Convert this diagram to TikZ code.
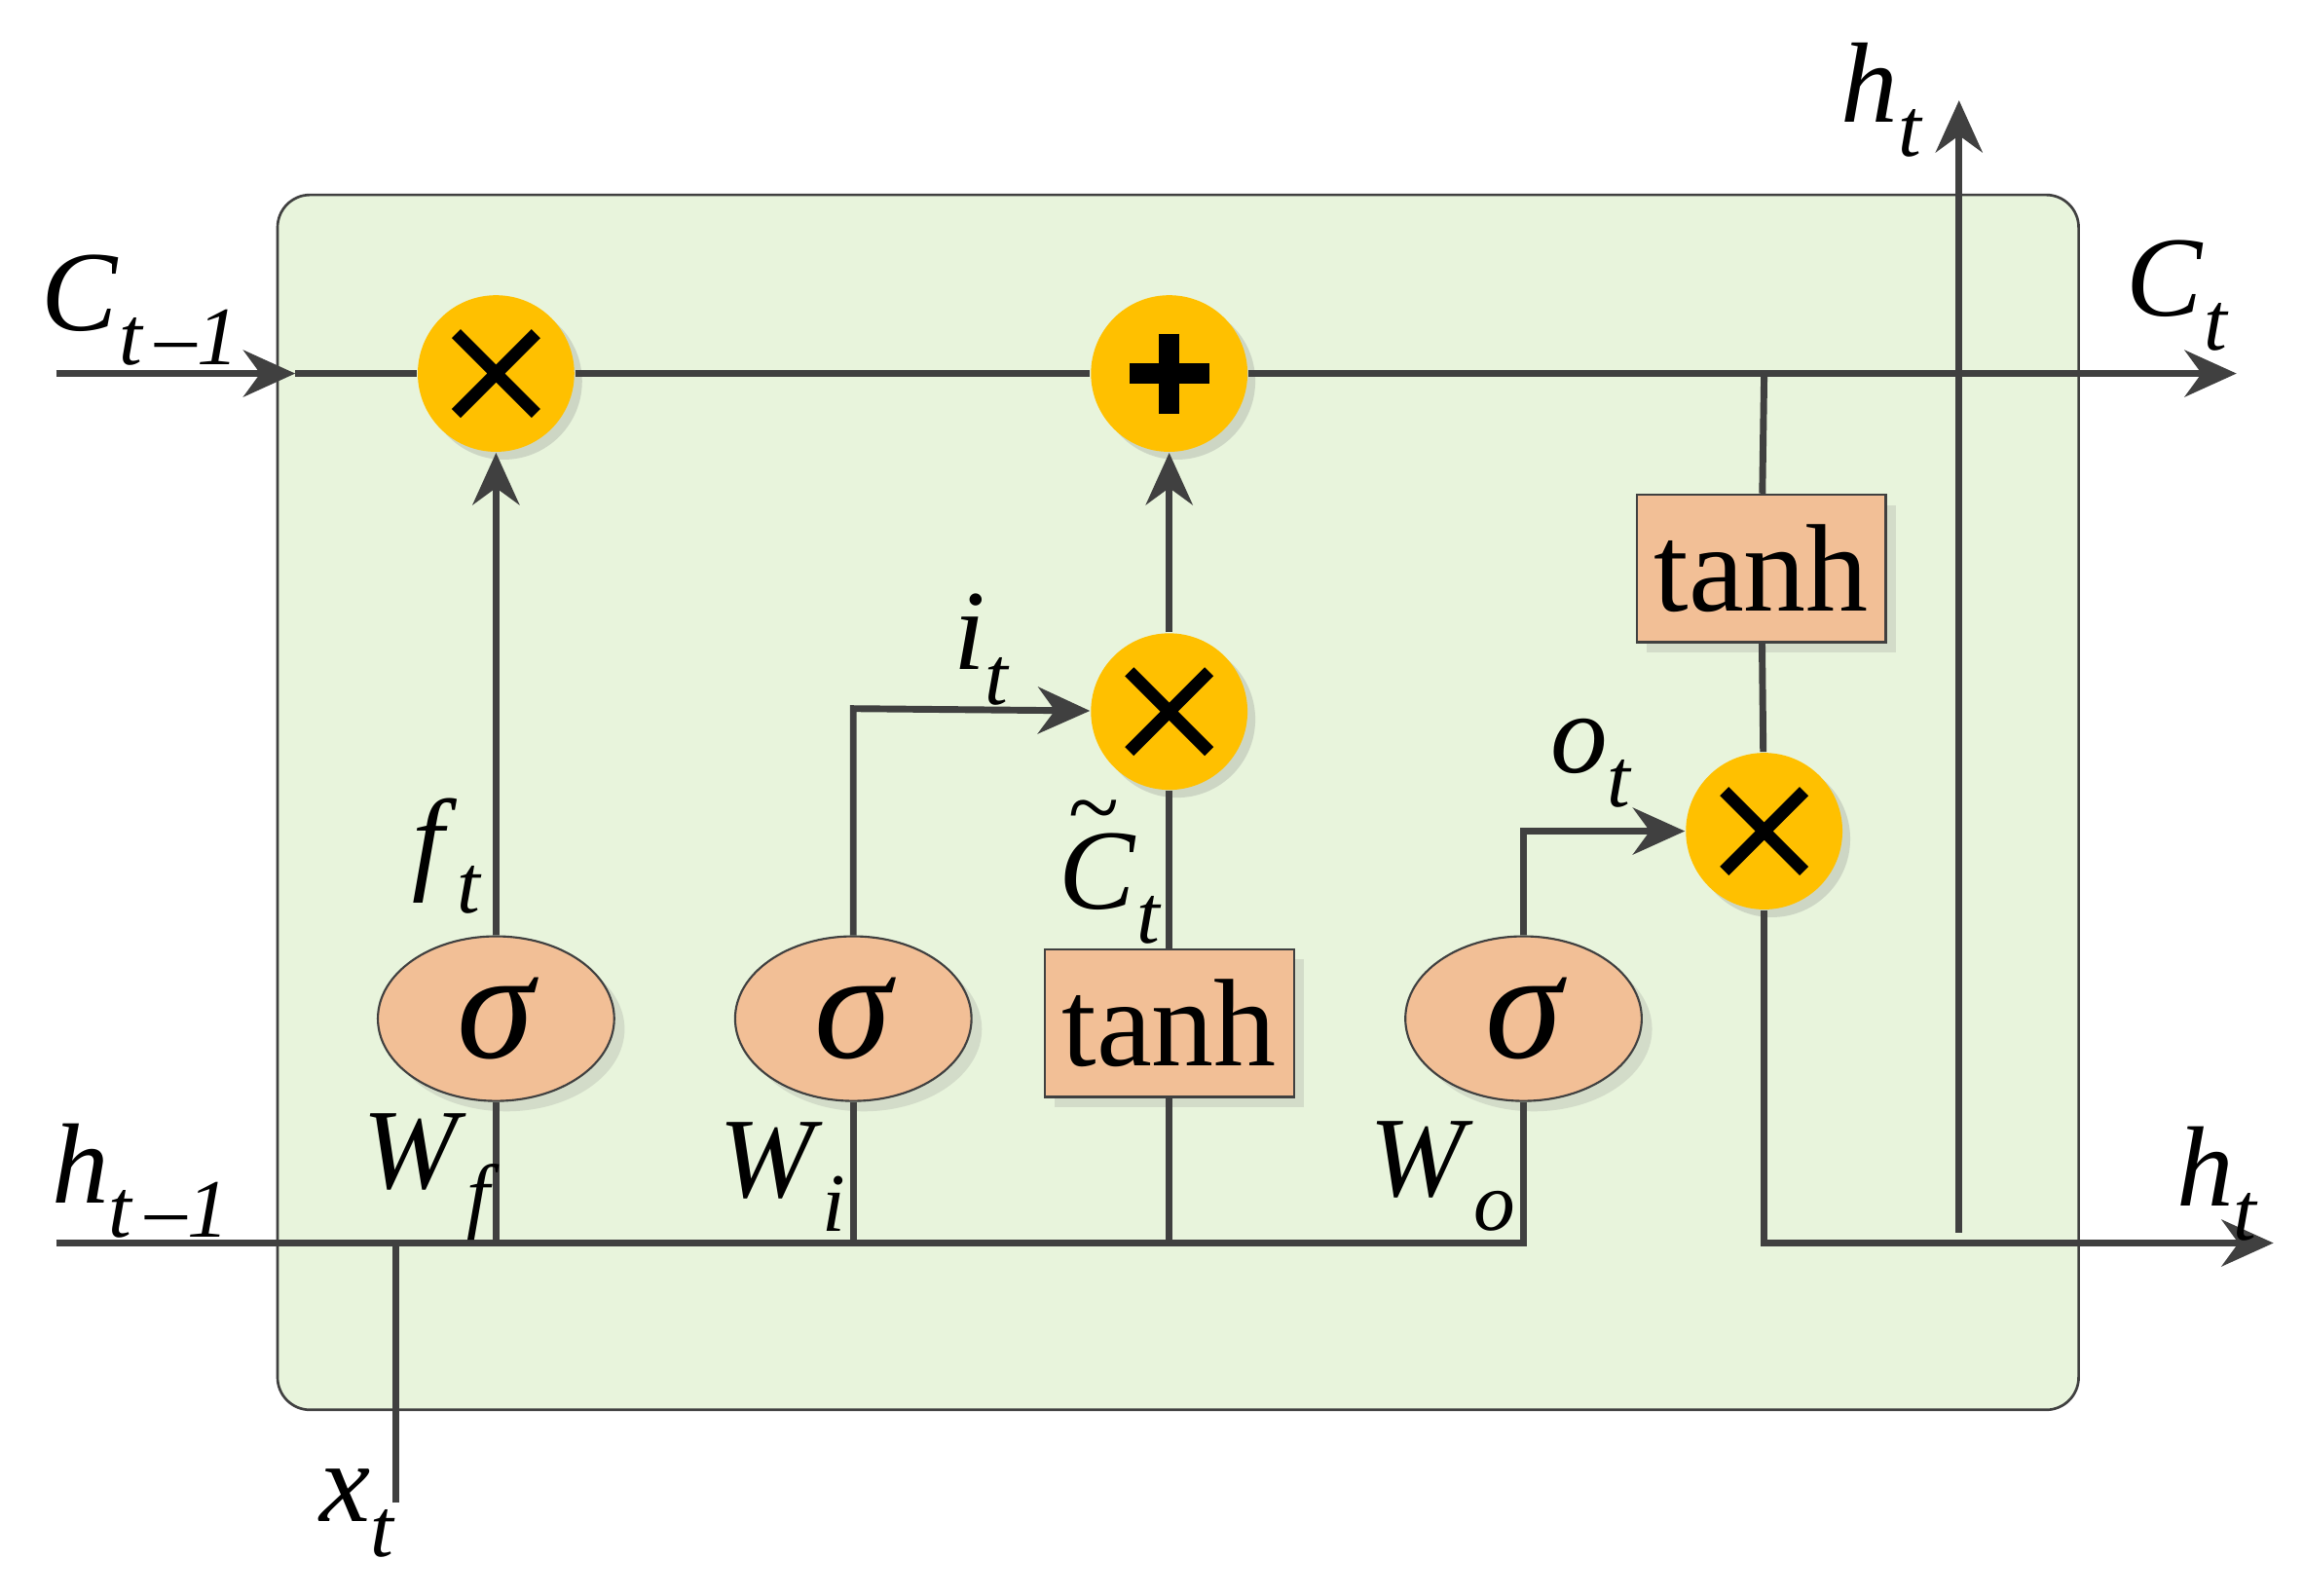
\documentclass[tikz,border=0pt]{standalone}
\usepackage{fontspec}
\setmainfont{Liberation Serif}
\usetikzlibrary{arrows.meta,shapes.geometric,shadows}
\definecolor{bg}{HTML}{E8F4DC}
\definecolor{gate}{HTML}{FFC000}
\definecolor{act}{HTML}{F2BF96}
\definecolor{ln}{HTML}{404040}
\newcommand\lv[2]{\textit{#1}\raisebox{-0.3em}{\fontsize{16}{16}\selectfont\textit{#2}}}
\begin{document}
\begin{tikzpicture}[x=0.01cm,y=-0.01cm,
  wire/.style={draw=ln,line width=1.3pt},
  arr/.style={wire,-{Stealth[length=10pt,width=9pt]}},
  op/.style={circle,fill=gate,minimum size=1.06cm,inner sep=0pt,drop shadow={shadow xshift=1.5pt,shadow yshift=-1.5pt,opacity=0.25}},
  sig/.style={ellipse,fill=act,draw=ln,line width=0.4pt,minimum width=1.6cm,minimum height=1.1cm,font=\fontsize{30}{30}\selectfont\itshape,drop shadow={shadow xshift=2pt,shadow yshift=-2pt,opacity=0.2}},
  th/.style={rectangle,fill=act,draw=ln,line width=0.4pt,minimum width=1.62cm,minimum height=1.0cm,font=\fontsize{24}{24}\selectfont,drop shadow={shadow xshift=2pt,shadow yshift=-2pt,opacity=0.2}},
  lab/.style={font=\fontsize{22}{24}\selectfont,inner sep=1pt}]
\useasboundingbox (0,0) rectangle (1560,1081);
\draw[fill=bg,draw=ln,line width=0.5pt,rounded corners=0.22cm] (188,132) rectangle (1408,955);
\coordinate (cin) at (38,253); \coordinate (cedge) at (200,253); \coordinate (cout) at (1515,253);
\coordinate (hin) at (38,842); \coordinate (hout) at (1540,842);
\coordinate (xt) at (268,1018); \coordinate (xj) at (268,842);
\coordinate (htb) at (1327,835); \coordinate (htt) at (1327,68);
\node[op] (m1) at (336,253) {};
\node[op] (pl) at (792,253) {};
\node[op] (m2) at (792,482) {};
\node[op] (m3) at (1195,563) {};
\foreach \n in {m1,m2,m3}{\draw[line width=2.4pt] ([shift={(-27,-27)}]\n.center) -- ([shift={(27,27)}]\n.center) ([shift={(-27,27)}]\n.center) -- ([shift={(27,-27)}]\n.center);}
\draw[line width=4pt] ([shift={(-27,0)}]pl.center) -- ([shift={(27,0)}]pl.center) ([shift={(0,-27)}]pl.center) -- ([shift={(0,27)}]pl.center);
\node[sig] (sf) at (336,690) {σ};
\node[sig] (si) at (578,690) {σ};
\node[sig] (so) at (1032,690) {σ};
\node[th] (t1) at (792,693) {tanh};
\node[th] (t2) at (1193,385) {tanh};
\draw[arr] (cin) -- (cedge);
\draw[wire] (cedge) -- (m1); \draw[wire] (m1) -- (pl);
\draw[arr] (pl) -- (cout);
\draw[wire] (hin) -- (1032,842) -- (so);
\draw[wire] (xt) -- (xj);
\draw[wire] (336,842) -- (sf); \draw[wire] (578,842) -- (si); \draw[wire] (792,842) -- (t1);
\draw[arr] (sf) -- (m1);
\draw[arr] (si.north) -- (578,480) -- (m2);
\draw[wire] (t1) -- (m2); \draw[arr] (m2) -- (pl);
\draw[arr] (so.north) -- (1032,563) -- (m3);
\draw[wire] (1195,253) -- (t2); \draw[wire] (t2) -- (m3);
\draw[arr] (m3) -- (1195,842) -- (hout);
\draw[arr] (htb) -- (htt);
\node[lab] (l1) at (95,210) {\lv{C}{t\,–1}};
\node[lab] (l2) at (1475,200) {\lv{C}{t}};
\node[lab] (l3) at (1275,68) {\lv{h}{t}};
\node[lab] (l4) at (95,800) {\lv{h}{t\,–1}};
\node[lab] (l5) at (1502,802) {\lv{h}{t}};
\node[lab] (l6) at (242,1025) {\lv{x}{t}};
\node[lab] (l7) at (303,580) {\lv{f}{t}};
\node[lab] (l8) at (292,797) {\lv{W}{f}};
\node[lab] (l9) at (665,440) {\lv{i}{t}};
\node[lab] (l10) at (752,602) {\lv{C}{t}};
\node[lab,font=\fontsize{18}{18}\selectfont] (l10t) at (741,555) {\textasciitilde};
\node[lab] (l11) at (530,797) {\lv{W}{i}};
\node[lab] (l12) at (1078,517) {\lv{o}{t}};
\node[lab] (l13) at (977,797) {\lv{W}{o}};
\end{tikzpicture}
\end{document}
